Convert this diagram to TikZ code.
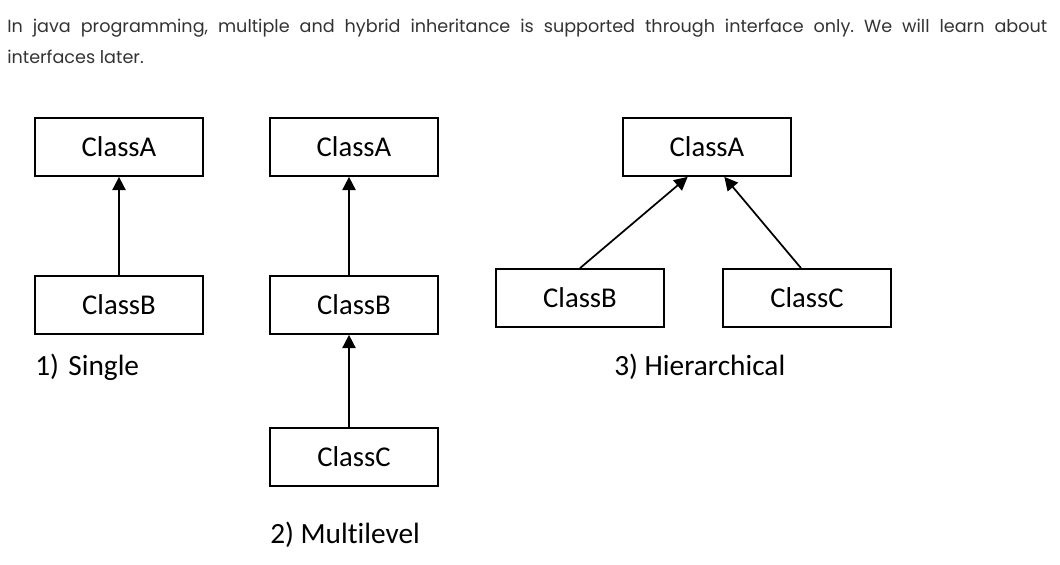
\documentclass[tikz,border=0pt]{standalone}
\usepackage{fontspec}
\setmainfont{Carlito}[Ligatures={NoCommon}]
\newfontfamily\introfont{Poppins}
\usetikzlibrary{arrows.meta}
\definecolor{introgray}{HTML}{333333}
\tikzset{
    classbox/.style={draw, line width=1.3pt, minimum width=126pt, minimum height=43.5pt,
        inner sep=0pt, font=\fontsize{21.5}{24}\selectfont},
    caption/.style={anchor=west, inner sep=0pt, font=\fontsize{22}{26}\selectfont},
    inherit/.style={-{Triangle[length=10pt, width=10pt]}, line width=1.3pt}
}
\begin{document}
\frenchspacing
\begin{tikzpicture}[x=0.75pt, y=-0.75pt]
        \useasboundingbox (0,0) rectangle (1060,564);
        % intro text
        \node[anchor=north west, inner sep=0pt, text width=780pt, align=justify,
            text=introgray, font=\introfont\fontsize{13.2}{23.25}\selectfont] (intro) at (7,19)
            {In java programming, multiple and hybrid inheritance is supported through interface only. We will learn about\linebreak interfaces later.};
        % 1) single
        \node[classbox] (SingleA) at (119,147) {ClassA};
        \node[classbox] (SingleB) at (119,305) {ClassB};
        \draw[inherit] (SingleB) -- (SingleA);
        \node[caption] (SingleLabel) at (35,367) {1)\hspace{7pt}Single};
        % 2) multilevel
        \node[classbox] (MultiA) at (354,147) {ClassA};
        \node[classbox] (MultiB) at (354,305) {ClassB};
        \node[classbox] (MultiC) at (354,457) {ClassC};
        \draw[inherit] ([xshift=-3.75pt]MultiB.north) -- ([xshift=-3.75pt]MultiA.south);
        \draw[inherit] ([xshift=-3.75pt]MultiC.north) -- ([xshift=-3.75pt]MultiB.south);
        \node[caption] (MultiLabel) at (270,535) {2) Multilevel};
        % 3) hierarchical
        \node[classbox] (HierA) at (707,147) {ClassA};
        \node[classbox] (HierB) at (580,298) {ClassB};
        \node[classbox] (HierC) at (807,298) {ClassC};
        \draw[inherit] (HierB.north) -- ([xshift=-14.5pt]HierA.south);
        \draw[inherit] ([xshift=-4.5pt]HierC.north) -- ([xshift=13pt]HierA.south);
        \node[caption] (HierLabel) at (614,367) {3) Hierarchical};
    \end{tikzpicture}
\end{document}
